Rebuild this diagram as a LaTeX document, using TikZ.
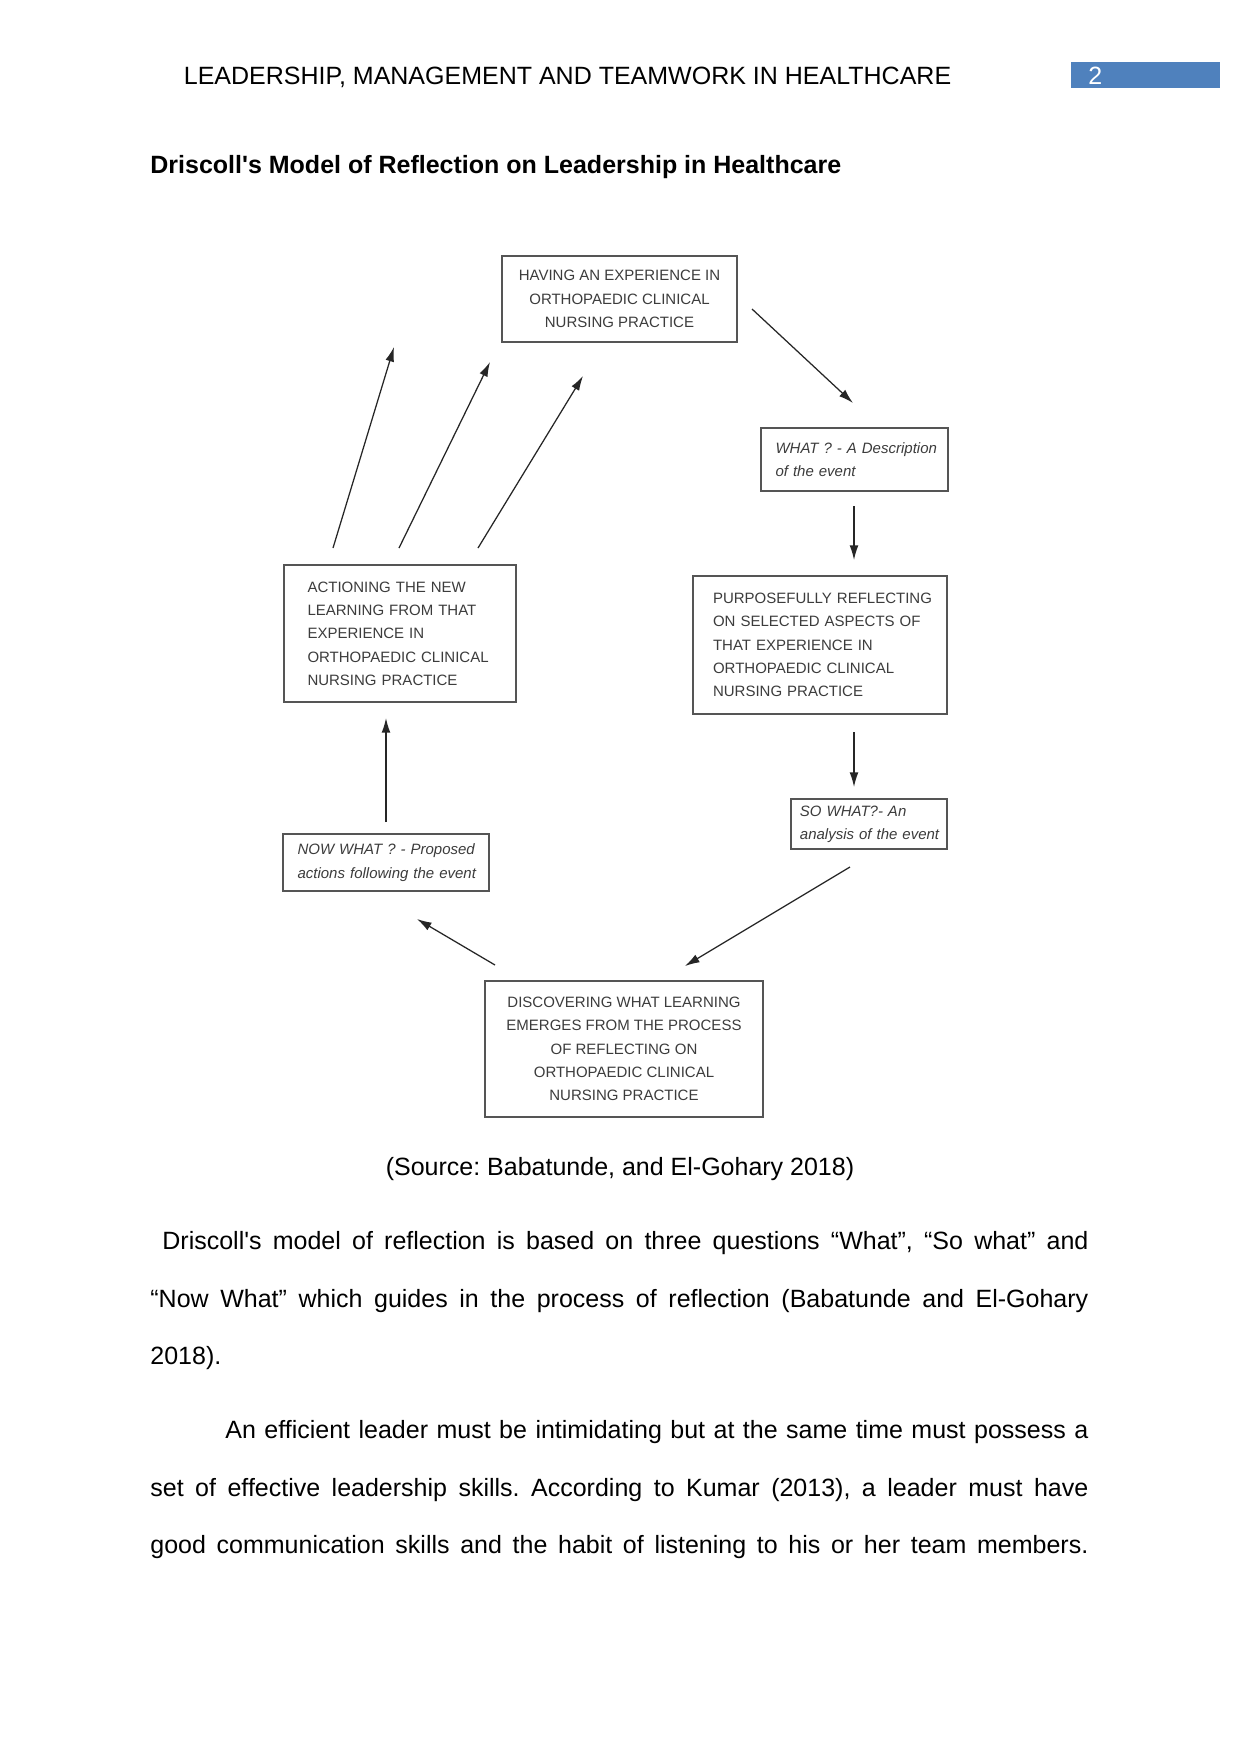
\documentclass[tikz,border=0pt]{standalone}
\usepackage{fontspec}
\setmainfont{Liberation Sans}
\usetikzlibrary{arrows.meta}
\definecolor{hdrblue}{HTML}{4F81BD}
\definecolor{boxtext}{HTML}{3C3C3C}
\definecolor{boxline}{HTML}{555555}
\begin{document}
\frenchspacing
\begin{tikzpicture}[x=0.48pt,y=-0.48pt,
  box/.style={draw=boxline, line width=0.75pt, text=boxtext, font=\fontsize{7.2}{11.2}\selectfont, inner ysep=0pt},
  ibox/.style={box, font=\fontsize{7.2}{11.2}\selectfont\itshape},
  flow/.style={draw=black!85, line width=0.6pt, -{Latex[length=7pt,width=4.2pt]}},
  body/.style={font=\fontsize{12}{14}\selectfont, anchor=base west, inner sep=0pt}
]
\useasboundingbox (0,0) rectangle (1241,1754);
\fill[white] (0,0) rectangle (1241,1754);

% header
\node[body] (hdr) at (183.5,84) {LEADERSHIP, MANAGEMENT AND TEAMWORK IN HEALTHCARE};
\fill[hdrblue] (1071,61.5) rectangle (1220,88.4);
\node[body, text=white] (pg) at (1088,84) {2};

% title
\node[body, font=\fontsize{12}{14}\selectfont\bfseries] (title) at (150,173) {Driscoll\textquotesingle s Model of Reflection on Leadership in Healthcare};

% boxes
\node[box, minimum width=112.8pt, minimum height=41.3pt, align=center] (exp) at (619.5,299)
  {HAVING AN EXPERIENCE IN\\ORTHOPAEDIC CLINICAL\\NURSING PRACTICE};
\node[ibox, minimum width=89.8pt, minimum height=30.2pt, text width=75.8pt, inner xsep=7pt, align=left] (what) at (854.5,459.5)
  {\mbox{WHAT ? - A Description}\\\mbox{of the event}};
\node[box, minimum width=121.9pt, minimum height=66.2pt, text width=102.7pt, inner xsep=9.6pt, align=left] (purp) at (820,645)
  {\mbox{PURPOSEFULLY REFLECTING}\\\mbox{ON SELECTED ASPECTS OF}\\\mbox{THAT EXPERIENCE IN}\\\mbox{ORTHOPAEDIC CLINICAL}\\\mbox{NURSING PRACTICE}};
\node[ibox, minimum width=74.9pt, minimum height=24pt, text width=66.3pt, inner xsep=4.3pt, align=left] (sowhat) at (869,824)
  {\mbox{SO WHAT?- An}\\\mbox{analysis of the event}};
\node[box, minimum width=133.4pt, minimum height=65.3pt, align=center] (disc) at (624,1049)
  {DISCOVERING WHAT LEARNING\\EMERGES FROM THE PROCESS\\OF REFLECTING ON\\ORTHOPAEDIC CLINICAL\\NURSING PRACTICE};
\node[ibox, minimum width=98.9pt, minimum height=27.4pt, text width=84.9pt, inner xsep=7pt, align=left] (nowwhat) at (386,862.5)
  {\mbox{NOW WHAT ? - Proposed}\\\mbox{actions following the event}};
\node[box, minimum width=111.4pt, minimum height=65.8pt, text width=88.8pt, inner xsep=11.3pt, align=left] (action) at (400,633.5)
  {\mbox{ACTIONING THE NEW}\\\mbox{LEARNING FROM THAT}\\\mbox{EXPERIENCE IN}\\\mbox{ORTHOPAEDIC CLINICAL}\\\mbox{NURSING PRACTICE}};

% arrow end points
\coordinate (a1s) at (752,309);  \coordinate (a1e) at (853,403);
\coordinate (a2s) at (854,506);  \coordinate (a2e) at (854,560);
\coordinate (a3s) at (854,732);  \coordinate (a3e) at (854,787);
\coordinate (a4s) at (850,867);  \coordinate (a4e) at (685,966);
\coordinate (a5s) at (495,965);  \coordinate (a5e) at (417,919);
\coordinate (a6s) at (386,822);  \coordinate (a6e) at (386,718);
\coordinate (a7s) at (333,548);  \coordinate (a7e) at (394,347);
\coordinate (a8s) at (399,548);  \coordinate (a8e) at (490,362);
\coordinate (a9s) at (478,548);  \coordinate (a9e) at (583,376);
\foreach \i in {1,...,9} { \draw[flow] (a\i s) -- (a\i e); }

% caption
\node[body, anchor=base] (src) at (620,1175) {(Source: Babatunde, and El-Gohary 2018)};

% paragraphs
\node[body] (l1) at (162,1249) {\makebox[444.5pt][s]{Driscoll\textquotesingle s model of reflection is based on three questions “What”, “So what” and}};
\node[body] (l2) at (150,1307) {\makebox[450.2pt][s]{“Now What” which guides in the process of reflection (Babatunde and El-Gohary}};
\node[body] (l3) at (150,1364) {2018).};
\node[body] (l4) at (225,1438) {\makebox[414.2pt][s]{An efficient leader must be intimidating but at the same time must possess a}};
\node[body] (l5) at (150,1496) {\makebox[450.2pt][s]{set of effective leadership skills. According to Kumar (2013), a leader must have}};
\node[body] (l6) at (150,1553) {\makebox[450.2pt][s]{good communication skills and the habit of listening to his or her team members.}};
\end{tikzpicture}
\end{document}
